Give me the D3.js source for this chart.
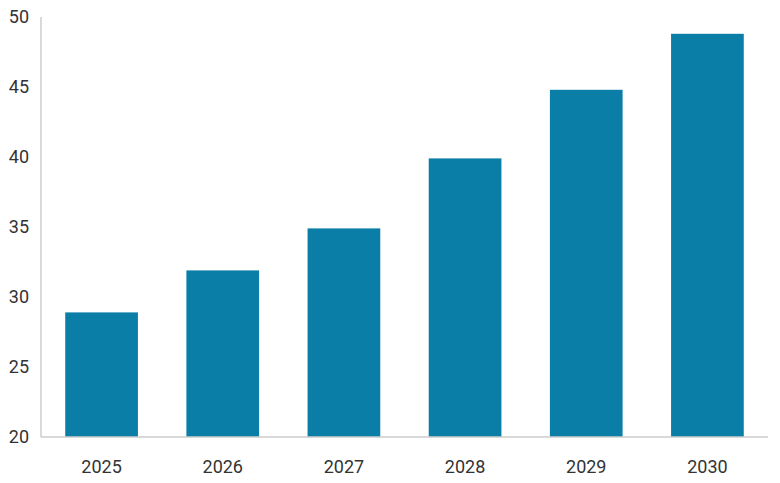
<!DOCTYPE html>
<html><head><meta charset="utf-8">
<script src="https://cdn.jsdelivr.net/npm/d3@7"></script>
<style>body{margin:0;background:#fff}text{font-family:Roboto,sans-serif;fill:#333}</style>
</head><body><svg id="c" width="780" height="483"></svg>
<script>
const years = ['2025', '2026', '2027', '2028', '2029', '2030']
const values = [28.9, 31.9, 34.9, 39.9, 44.8, 48.8]
const yTicks = [20, 25, 30, 35, 40, 45, 50]

const svg = d3.select('#c')
const m = { left: 41, right: 12, top: 17, bottom: 46 }
const W = 780, H = 483

const x = d3.scaleBand().domain(years).range([m.left, W - m.right]).paddingInner(0.4).paddingOuter(0.2)
const y = d3.scaleLinear().domain([20, 50]).range([H - m.bottom, m.top])

svg.selectAll('rect').data(values).join('rect')
  .attr('x', (d, i) => x(years[i]))
  .attr('width', x.bandwidth())
  .attr('y', d => y(d))
  .attr('height', d => y(20) - y(d))
  .attr('fill', '#0a7ea6')

svg.append('line').attr('x1', m.left).attr('x2', m.left).attr('y1', m.top).attr('y2', y(20))
  .attr('stroke', '#ccc').attr('stroke-width', 1.5)
svg.append('line').attr('x1', m.left).attr('x2', W - m.right).attr('y1', y(20)).attr('y2', y(20))
  .attr('stroke', '#ccc').attr('stroke-width', 1.5)

svg.selectAll('.yt').data(yTicks).join('text')
  .attr('x', 29).attr('y', d => y(d)).attr('dy', '0.35em')
  .attr('text-anchor', 'end').attr('font-size', 18).text(d => d)

svg.selectAll('.xt').data(years).join('text')
  .attr('x', d => x(d) + x.bandwidth() / 2).attr('y', 473)
  .attr('text-anchor', 'middle').attr('font-size', 18).text(d => d)
</script></body></html>
